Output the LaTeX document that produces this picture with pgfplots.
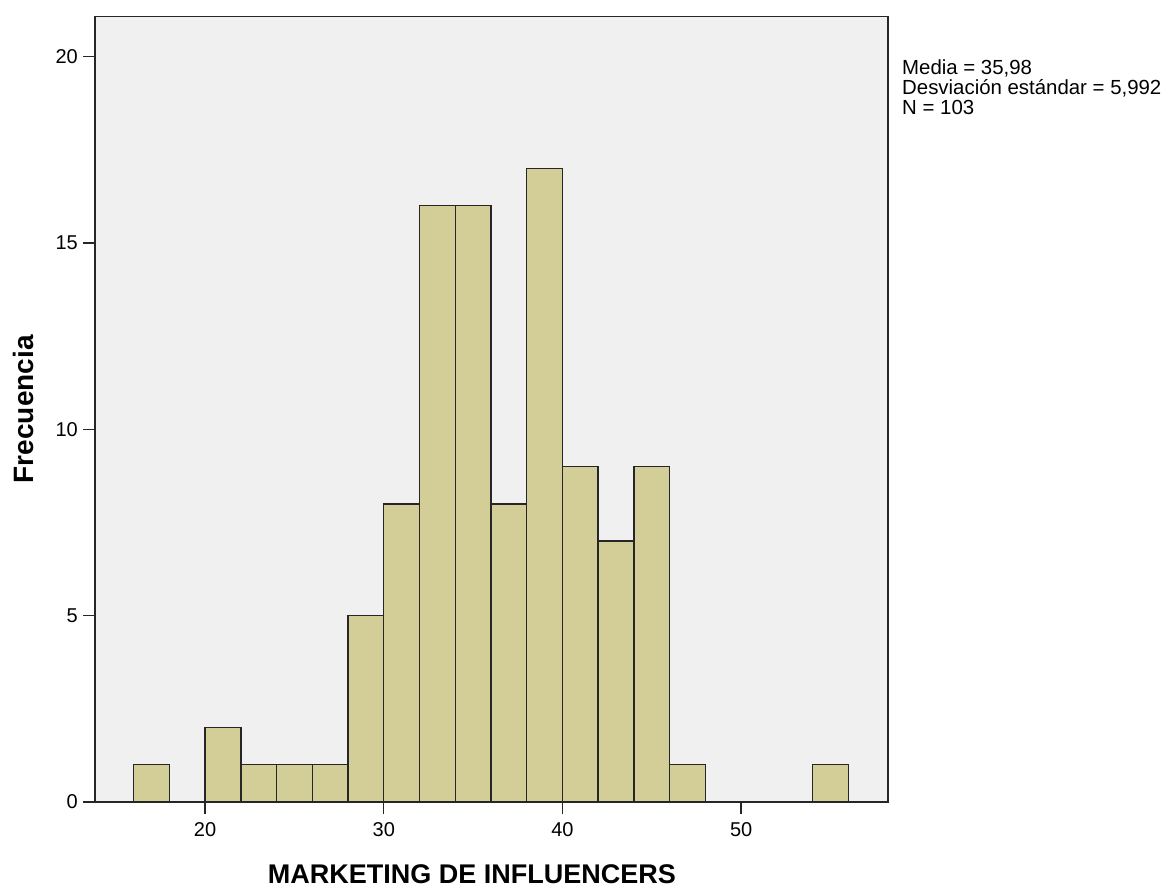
\documentclass[border=0pt]{standalone}
\usepackage{fontspec}
\setmainfont{Liberation Sans}
\usepackage{pgfplots}
\pgfplotsset{compat=1.18}

\definecolor{barfill}{RGB}{211,206,151}
\definecolor{plotbg}{RGB}{240,240,240}

\begin{document}
\begin{tikzpicture}
  \begin{axis}[
      name=ax,
      scale only axis,
      width=793bp,
      height=785.5bp,
      xmin=13.84, xmax=58.22,
      ymin=0, ymax=21.08,
      axis background/.style={fill=plotbg},
      axis line style={black!85, line width=1.3bp},
      xtick={20,30,40,50},
      ytick={0,5,10,15,20},
      tick align=outside,
      major tick length=12bp,
      tick style={black!85, line width=1.3bp},
      xtick pos=bottom,
      ytick pos=left,
      /pgf/number format/assume math mode=true,
      tick label style={font=\fontsize{20bp}{20bp}\selectfont, inner sep=0pt},
      xticklabel style={anchor=north, yshift=-8bp},
      yticklabel style={anchor=east, xshift=-5bp},
      clip=false,
    ]
    % histogram, bins of width 2
    \addplot[ybar interval, fill=barfill, draw=black!85, line width=1.4bp] coordinates {
      (16,1) (18,0) (20,2) (22,1) (24,1) (26,1) (28,5) (30,8)
      (32,16) (34,16) (36,8) (38,17) (40,9) (42,7) (44,9) (46,1)
      (48,0) (54,1) (56,1)
    };

    \node[anchor=north west, inner sep=0pt, align=left,
          font=\fontsize{20.4bp}{20bp}\selectfont]
      at ([xshift=14bp, yshift=-43bp]rel axis cs:1,1)
      {Media = 35,98\\Desviación estándar = 5,992\\N = 103};

    \node[font=\fontsize{27bp}{27bp}\selectfont\bfseries]
      at ([yshift=-72bp]rel axis cs:0.4754,0) {MARKETING DE INFLUENCERS};

    \node[rotate=90, font=\fontsize{28bp}{28bp}\selectfont\bfseries]
      at ([xshift=-72bp]rel axis cs:0,0.5) {Frecuencia};
  \end{axis}
  \pgfresetboundingbox
  \useasboundingbox ([xshift=-95bp, yshift=-86bp]ax.south west) rectangle ++(1172bp,888bp);
\end{tikzpicture}
\end{document}
